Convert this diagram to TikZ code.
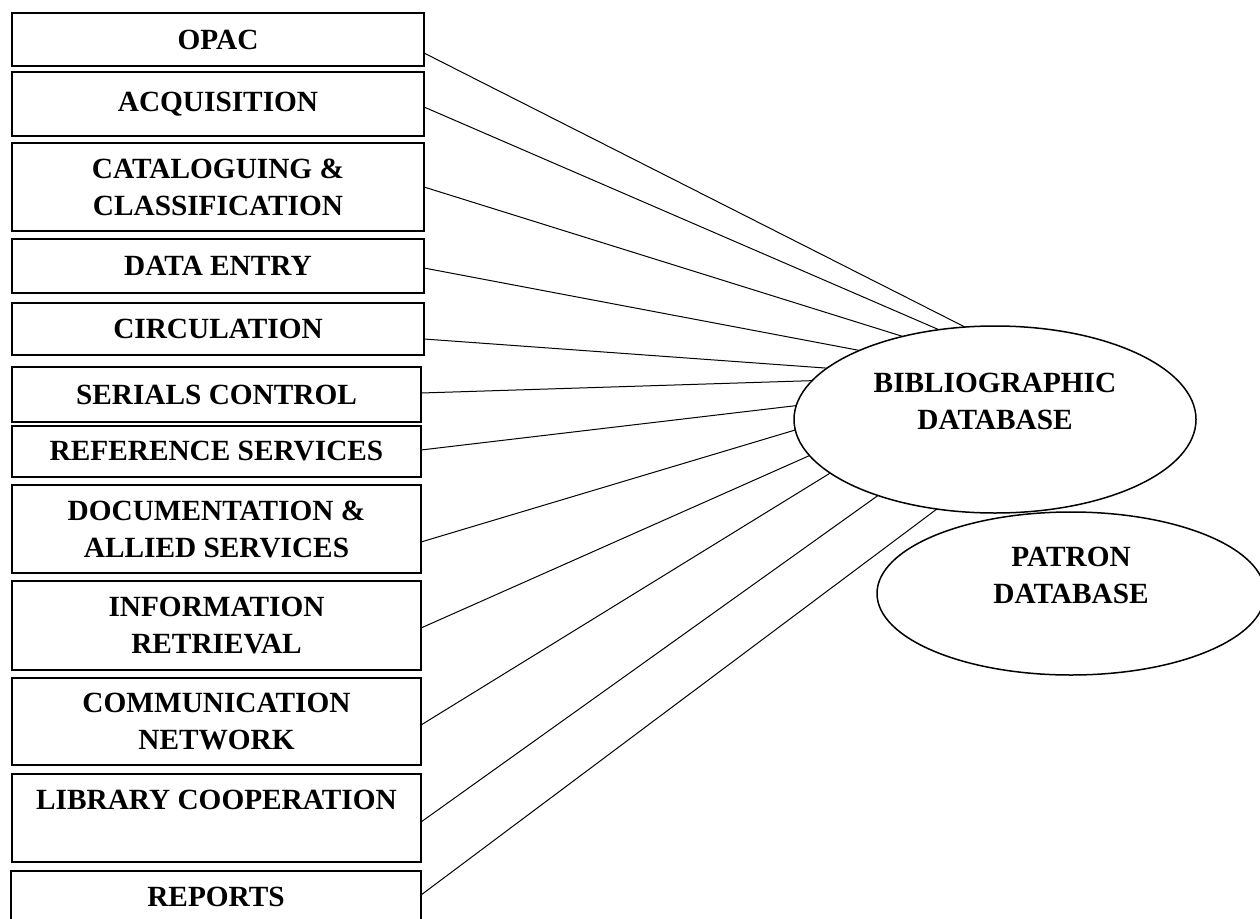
\documentclass[tikz,border=0pt]{standalone}
\usepackage{fontspec}
\setmainfont{Liberation Serif}
\usetikzlibrary{shapes.geometric,calc}
\begin{document}
\begin{tikzpicture}[x=1pt,y=-1pt,
  box/.style={draw, line width=1.6pt, inner sep=0pt, outer sep=0pt, align=center,
    font=\fontsize{29.3}{37}\selectfont\bfseries},
  db/.style={draw, ellipse, line width=1.5pt, inner sep=0pt, outer sep=0pt, align=center,
    font=\fontsize{29.3}{37}\selectfont\bfseries},
  link/.style={line width=1pt}]
\useasboundingbox (0,0) rectangle (1260,918);
\clip (0,0) rectangle (1260,918);
% boxes
\node[box, minimum width=412, minimum height=53] (opac) at (218,39.5) {OPAC};
\node[box, minimum width=412, minimum height=64] (acq) at (218,104) {ACQUISITION};
\node[box, minimum width=412, minimum height=88] (cat) at (218,187) {CATALOGUING \&\\CLASSIFICATION};
\node[box, minimum width=412, minimum height=54] (data) at (218,266) {DATA ENTRY};
\node[box, minimum width=412, minimum height=52] (circ) at (218,329) {CIRCULATION};
\node[box, minimum width=409, minimum height=55] (ser) at (216.5,394.5) {SERIALS CONTROL};
\node[box, minimum width=409, minimum height=51] (ref) at (216.5,451.5) {REFERENCE SERVICES};
\node[box, minimum width=409, minimum height=88] (doc) at (216.5,529) {DOCUMENTATION \&\\ALLIED SERVICES};
\node[box, minimum width=409, minimum height=89] (info) at (216.5,625.5) {INFORMATION\\RETRIEVAL};
\node[box, minimum width=409, minimum height=87] (comm) at (216.5,721.5) {COMMUNICATION\\NETWORK};
\node[box, minimum width=409, minimum height=88] (lib) at (216.5,818) {LIBRARY COOPERATION\\\mbox{}};
\node[box, minimum width=410, minimum height=88] (rep) at (216,915) {REPORTS\\\mbox{}};
% databases
\node[db, minimum width=402, minimum height=187] (bib) at (995,419.5) {BIBLIOGRAPHIC\\DATABASE\\\mbox{}};
\node[db, minimum width=388, minimum height=163] (pat) at (1071,593.5) {PATRON\\DATABASE\\\mbox{}};
% connectors
\draw[link] ($(opac.east)+(0,13.5)$) -- (bib.108.9);
\draw[link] ($(acq.east)+(0,3)$) -- (bib.122.2);
\draw[link] (cat.east) -- (bib.138.3);
\draw[link] ($(data.east)+(0,2)$) -- (bib.153.1);
\draw[link] ($(circ.east)+(0,10)$) -- (bib.163.1);
\draw[link] ($(ser.east)+(0,-1.5)$) -- (bib.168.5);
\draw[link] ($(ref.east)+(0,-1.5)$) -- (bib.176.4);
\draw[link] ($(doc.east)+(0,13)$) -- (bib.183.0);
\draw[link] ($(info.east)+(0,2.5)$) -- (bib.191.0);
\draw[link] ($(comm.east)+(0,3.5)$) -- (bib.198.6);
\draw[link] ($(lib.east)+(0,4)$) -- (bib.213.5);
\draw[link] ($(rep.east)+(0,-20)$) -- (bib.237.9);
\end{tikzpicture}
\end{document}
